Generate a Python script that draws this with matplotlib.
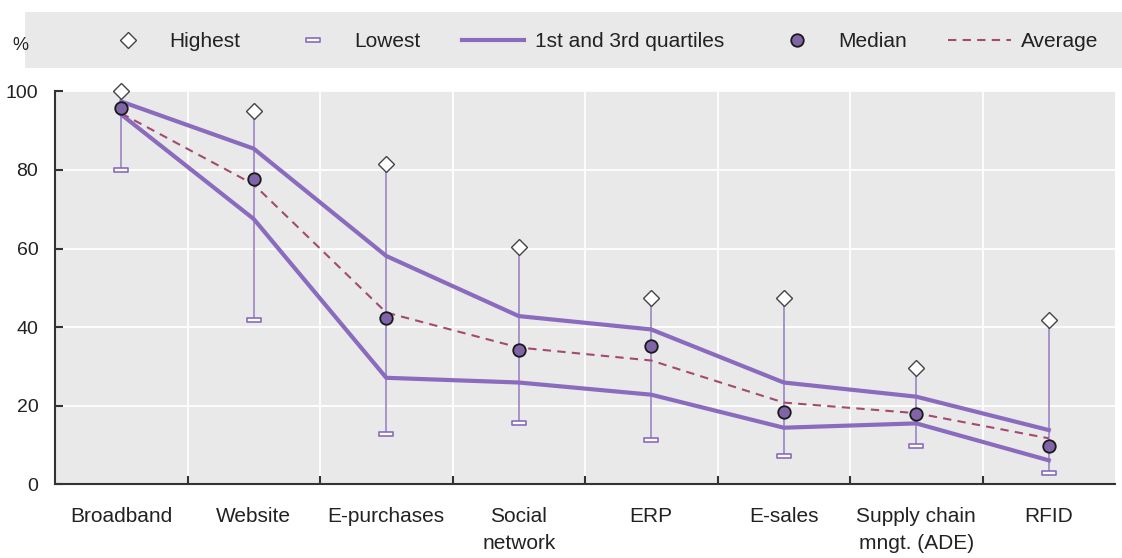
import matplotlib
matplotlib.use("Agg")
import matplotlib.pyplot as plt
from matplotlib.path import Path
from matplotlib import font_manager

categories = ["Broadband", "Website", "E-purchases", "Social\nnetwork", "ERP",
              "E-sales", "Supply chain\nmngt. (ADE)", "RFID"]
highest = [100.0, 95.1, 81.4, 60.3, 47.3, 47.5, 29.6, 41.8]
lowest = [80.0, 41.8, 12.8, 15.7, 11.3, 7.2, 9.8, 2.9]
q3 = [97.4, 85.4, 58.1, 42.8, 39.4, 25.9, 22.3, 13.8]
q1 = [94.1, 67.5, 27.1, 25.9, 22.8, 14.4, 15.5, 6.1]
median = [95.8, 77.6, 42.4, 34.1, 35.3, 18.5, 17.8, 9.8]
average = [94.4, 76.3, 43.7, 34.8, 31.5, 20.8, 18.1, 11.7]
yticks = [0, 20, 40, 60, 80, 100]

avail = {f.name for f in font_manager.fontManager.ttflist}
fam = ["Liberation Sans Narrow"] if "Liberation Sans Narrow" in avail else ["Liberation Sans"]
plt.rcParams["font.family"] = fam + ["DejaVu Sans"]

PURPLE = "#8a6bbd"
WHISK = "#a08cc8"
AVG = "#a34a72"
BG = "#e9e9e9"
TXT = "#222222"

fig = plt.figure(figsize=(11.22, 5.58), dpi=100)
W, H = 1122, 558
ax = fig.add_axes([55 / W, 1 - 484.3 / H, (1115 - 55) / W, (484.3 - 91.3) / H])
ax.set_facecolor(BG)

x = list(range(len(categories)))

ax.vlines(x, lowest, highest, color=WHISK, lw=1.3, zorder=2)
rect = Path([(-1, -0.3), (1, -0.3), (1, 0.3), (-1, 0.3), (-1, -0.3)],
            [Path.MOVETO, Path.LINETO, Path.LINETO, Path.LINETO, Path.CLOSEPOLY])
ax.plot(x, lowest, ls="none", marker=rect, ms=10, mfc="white", mec=PURPLE,
        mew=1.2, zorder=4, label="Lowest")
ax.plot(x, q3, color=PURPLE, lw=3, zorder=3, solid_joinstyle="round",
        label="1st and 3rd quartiles")
ax.plot(x, q1, color=PURPLE, lw=3, zorder=3, solid_joinstyle="round")
ax.plot(x, average, color=AVG, lw=1.5, ls=(0, (4, 3)), zorder=3.5, label="Average")
ax.plot(x, highest, ls="none", marker="D", ms=8, mfc="white", mec="#444444",
        mew=1.0, zorder=5, label="Highest", clip_on=False)
ax.plot(x, median, ls="none", marker="o", ms=9, mfc="#8064a8", mec="#1a1a1a",
        mew=1.3, zorder=6, label="Median")

ax.set_xlim(-0.5, len(categories) - 0.5)
ax.set_ylim(0, 100)
ax.set_yticks(yticks)
ax.set_yticklabels([str(v) for v in yticks], fontsize=14, color=TXT)
ax.set_xticks([i + 0.5 for i in range(len(categories) - 1)])
ax.set_xticklabels([])
ax.set_xticks(x, minor=True)
ax.set_xticklabels(categories, minor=True, fontsize=15, color=TXT, va="top",
                   linespacing=1.55)
ax.tick_params(axis="x", which="minor", length=0, pad=16)
ax.tick_params(axis="x", which="major", direction="in", length=6, width=1.5, color="#333333")
ax.tick_params(axis="y", direction="in", length=6, width=1.5, color="#333333", pad=12)
ax.grid(True, which="major", color="white", lw=1.3, zorder=1)
ax.set_axisbelow(True)
for s in ["top", "right"]:
    ax.spines[s].set_visible(False)
for s in ["left", "bottom"]:
    ax.spines[s].set_color("#333333")
    ax.spines[s].set_linewidth(1.5)

fig.text(20 / W, 1 - 45 / H, "%", fontsize=13, color=TXT, ha="center", va="center")

# grey band behind legend
band = fig.add_axes([25 / W, 1 - 68 / H, (W - 25) / W, 56 / H])
band.set_facecolor(BG)
band.set_xticks([])
band.set_yticks([])
for s in band.spines.values():
    s.set_visible(False)
band.set_zorder(0)

handles, labels = ax.get_legend_handles_labels()
order = ["Highest", "Lowest", "1st and 3rd quartiles", "Median", "Average"]
hmap = dict(zip(labels, handles))
leg = fig.legend([hmap[o] for o in order], order, loc="lower left",
                 bbox_to_anchor=(80 / W, 1 - 68 / H, (1115 - 80) / W, 56 / H),
                 ncol=5, mode="expand", frameon=False, fontsize=15,
                 handlelength=3.0, handletextpad=0.5, borderaxespad=0,
                 borderpad=0.8)
for t in leg.get_texts():
    t.set_color(TXT)

fig.savefig("out.png", dpi=100, facecolor="white")
